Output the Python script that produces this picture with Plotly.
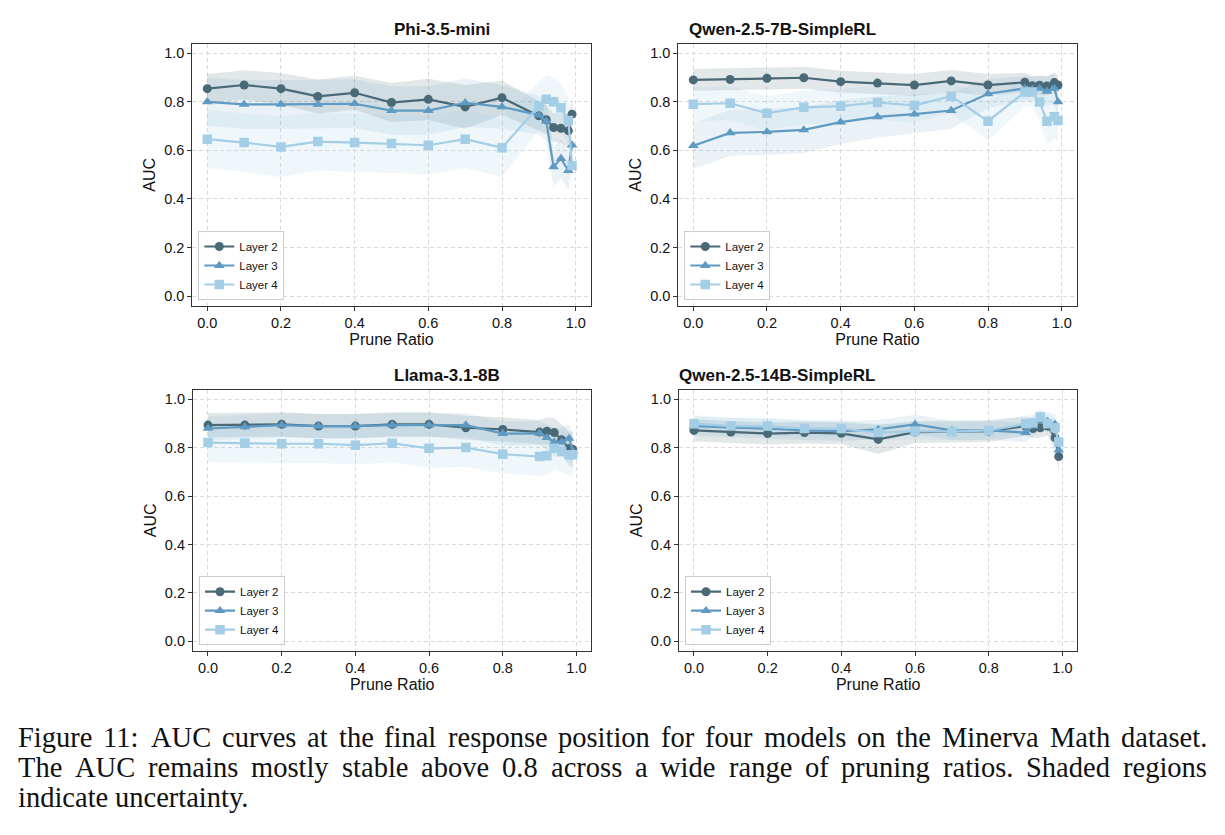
import plotly.graph_objects as go

W, H = 1225, 835

x_ratio = [0.0, 0.1, 0.2, 0.3, 0.4, 0.5, 0.6, 0.7, 0.8, 0.9, 0.92, 0.94, 0.96, 0.98, 0.99]
x_ticks = [0.0, 0.2, 0.4, 0.6, 0.8, 1.0]
y_ticks = [0.0, 0.2, 0.4, 0.6, 0.8, 1.0]
layer_names = ["Layer 2", "Layer 3", "Layer 4"]
model_names = ["Phi-3.5-mini", "Qwen-2.5-7B-SimpleRL", "Llama-3.1-8B", "Qwen-2.5-14B-SimpleRL"]

# ---- Phi-3.5-mini
phi_l2 = [0.854, 0.869, 0.854, 0.822, 0.837, 0.797, 0.810, 0.779, 0.817, 0.742, 0.726, 0.694, 0.691, 0.681, 0.749]
phi_l3 = [0.800, 0.789, 0.789, 0.789, 0.792, 0.764, 0.764, 0.796, 0.779, 0.745, 0.720, 0.532, 0.566, 0.517, 0.622]
phi_l4 = [0.646, 0.632, 0.614, 0.636, 0.632, 0.628, 0.621, 0.646, 0.611, 0.782, 0.810, 0.800, 0.775, 0.723, 0.538]
phi_s2 = [0.060, 0.060, 0.065, 0.070, 0.070, 0.080, 0.085, 0.090, 0.070, 0.060, 0.060, 0.060, 0.060, 0.070, 0.060]
phi_s3 = [0.100, 0.100, 0.100, 0.100, 0.100, 0.100, 0.100, 0.100, 0.090, 0.080, 0.080, 0.080, 0.080, 0.080, 0.080]
phi_s4 = [0.120, 0.120, 0.125, 0.120, 0.120, 0.120, 0.120, 0.120, 0.120, 0.100, 0.100, 0.100, 0.100, 0.100, 0.100]

# ---- Qwen-2.5-7B-SimpleRL
q7_l2 = [0.890, 0.892, 0.897, 0.899, 0.883, 0.877, 0.869, 0.886, 0.869, 0.880, 0.866, 0.868, 0.865, 0.879, 0.869]
q7_l3 = [0.619, 0.672, 0.676, 0.684, 0.716, 0.738, 0.749, 0.764, 0.833, 0.855, 0.851, 0.855, 0.843, 0.855, 0.800]
q7_l4 = [0.790, 0.794, 0.753, 0.777, 0.782, 0.797, 0.785, 0.823, 0.720, 0.840, 0.840, 0.799, 0.720, 0.738, 0.723]
q7_s2 = [0.045, 0.045, 0.045, 0.045, 0.045, 0.045, 0.045, 0.045, 0.045, 0.040, 0.040, 0.040, 0.040, 0.040, 0.040]
q7_s3 = [0.095, 0.095, 0.095, 0.095, 0.090, 0.085, 0.080, 0.075, 0.060, 0.050, 0.050, 0.050, 0.060, 0.060, 0.070]
q7_s4 = [0.070, 0.070, 0.070, 0.070, 0.070, 0.070, 0.070, 0.070, 0.080, 0.060, 0.060, 0.080, 0.100, 0.090, 0.090]

# ---- Llama-3.1-8B
ll_l2 = [0.893, 0.893, 0.896, 0.889, 0.889, 0.896, 0.896, 0.882, 0.875, 0.864, 0.868, 0.862, 0.832, 0.796, 0.793]
ll_l3 = [0.879, 0.886, 0.893, 0.889, 0.889, 0.893, 0.893, 0.893, 0.858, 0.859, 0.841, 0.823, 0.823, 0.838, 0.786]
ll_l4 = [0.821, 0.818, 0.816, 0.816, 0.810, 0.818, 0.797, 0.800, 0.773, 0.763, 0.766, 0.797, 0.784, 0.770, 0.770]
ll_s2 = [0.050, 0.050, 0.050, 0.050, 0.050, 0.050, 0.050, 0.050, 0.050, 0.050, 0.055, 0.060, 0.065, 0.070, 0.075]
ll_s3 = [0.050, 0.050, 0.050, 0.050, 0.050, 0.050, 0.050, 0.050, 0.050, 0.050, 0.055, 0.060, 0.060, 0.060, 0.065]
ll_s4 = [0.080, 0.080, 0.080, 0.080, 0.080, 0.080, 0.080, 0.080, 0.080, 0.080, 0.080, 0.085, 0.085, 0.085, 0.085]

# ---- Qwen-2.5-14B-SimpleRL
q14_l2 = [0.871, 0.864, 0.858, 0.862, 0.859, 0.834, 0.864, 0.866, 0.868, 0.889, 0.879, 0.882, 0.889, 0.841, 0.763]
q14_l3 = [0.889, 0.885, 0.878, 0.871, 0.868, 0.875, 0.896, 0.871, 0.871, 0.862, 0.889, 0.910, 0.907, 0.896, 0.790]
q14_l4 = [0.899, 0.889, 0.889, 0.879, 0.879, 0.862, 0.868, 0.866, 0.871, 0.899, 0.903, 0.926, 0.899, 0.882, 0.823]
q14_s2 = [0.045, 0.045, 0.045, 0.045, 0.045, 0.060, 0.045, 0.045, 0.045, 0.040, 0.040, 0.040, 0.040, 0.050, 0.070]
q14_s3 = [0.040, 0.040, 0.040, 0.040, 0.040, 0.040, 0.040, 0.040, 0.040, 0.040, 0.040, 0.040, 0.040, 0.040, 0.050]
q14_s4 = [0.035, 0.035, 0.035, 0.035, 0.035, 0.035, 0.035, 0.035, 0.035, 0.035, 0.035, 0.035, 0.035, 0.040, 0.050]

caption_lines = [
    "Figure 11: AUC curves at the final response position for four models on the Minerva Math dataset.",
    "The AUC remains mostly stable above 0.8 across a wide range of pruning ratios. Shaded regions",
    "indicate uncertainty.",
]
caption_justified = [True, True, False]

models = [
    ([phi_l2, phi_l3, phi_l4], [phi_s2, phi_s3, phi_s4]),
    ([q7_l2, q7_l3, q7_l4], [q7_s2, q7_s3, q7_s4]),
    ([ll_l2, ll_l3, ll_l4], [ll_s2, ll_s3, ll_s4]),
    ([q14_l2, q14_l3, q14_l4], [q14_s2, q14_s3, q14_s4]),
]

line_colors = ["#4a6977", "#5f9ac2", "#a4cde6"]
band_colors = ["rgba(74,105,119,0.16)", "rgba(95,154,194,0.13)", "rgba(164,205,230,0.16)"]
symbols = ["circle", "triangle-up", "square"]

# plot-area boxes in pixels (left, right, top, bottom)
boxes = [
    (192.3, 590.7, 44.0, 305.5),
    (678.3, 1076.7, 44.0, 305.5),
    (193.0, 591.4, 390.0, 650.7),
    (679.0, 1077.4, 390.0, 650.7),
]

SANS = "Liberation Sans, Arial, sans-serif"
SERIF = "Liberation Serif, Times New Roman, serif"
fig = go.Figure()
legend_keys = ["legend", "legend2", "legend3", "legend4"]

for i, ((series, stds), box) in enumerate(zip(models, boxes)):
    xa = "x" if i == 0 else f"x{i+1}"
    ya = "y" if i == 0 else f"y{i+1}"
    for j in range(3):
        up = [v + s for v, s in zip(series[j], stds[j])]
        lo = [v - s for v, s in zip(series[j], stds[j])]
        fig.add_trace(go.Scatter(
            x=x_ratio + x_ratio[::-1], y=up + lo[::-1], fill="toself",
            fillcolor=band_colors[j], line=dict(width=0), mode="lines",
            hoverinfo="skip", showlegend=False, xaxis=xa, yaxis=ya))
    for j in range(3):
        fig.add_trace(go.Scatter(
            x=x_ratio, y=series[j], mode="lines+markers", name=layer_names[j],
            line=dict(color=line_colors[j], width=2.2),
            marker=dict(symbol=symbols[j], size=9.5 if j else 9, color=line_colors[j]),
            xaxis=xa, yaxis=ya, legend=legend_keys[i]))

    l, r, t, b = box
    ax_common = dict(
        showline=True, mirror=True, linecolor="#333333", linewidth=1.2,
        ticks="outside", ticklen=4, tickcolor="#333333", tickwidth=1,
        showgrid=True, gridcolor="#dadada", griddash="4px,3px", gridwidth=0.8,
        zeroline=False, tickfont=dict(family=SANS, size=14.5, color="#111111"),
    )
    xkey = "xaxis" if i == 0 else f"xaxis{i+1}"
    ykey = "yaxis" if i == 0 else f"yaxis{i+1}"
    fig.layout[xkey] = dict(
        ax_common, domain=[l / W, r / W], anchor=ya, range=[-0.0407, 1.0407],
        tickvals=x_ticks, ticktext=[f"{v:.1f}" for v in x_ticks],
        title=dict(text="Prune Ratio", font=dict(family=SANS, size=16, color="#111111"), standoff=3))
    fig.layout[ykey] = dict(
        ax_common, domain=[1 - b / H, 1 - t / H], anchor=xa, range=[-0.039, 1.038],
        tickvals=y_ticks, ticktext=[f"{v:.1f}" for v in y_ticks],
        title=dict(text="AUC", font=dict(family=SANS, size=16, color="#111111"), standoff=4))
    fig.add_annotation(
        x=(l + r) / 2 / W, y=1 - t / H, xref="paper", yref="paper",
        text=f"<b>{model_names[i]}</b>", showarrow=False, yanchor="bottom", yshift=3,
        font=dict(family=SANS, size=17, color="#111111"))
    fig.layout[legend_keys[i]] = dict(
        x=(l + 6) / W, y=1 - (b - 5.5) / H, xanchor="left", yanchor="bottom",
        bgcolor="rgba(255,255,255,0.85)", bordercolor="#cccccc", borderwidth=1,
        font=dict(family=SANS, size=11.5, color="#111111"), itemwidth=30,
        tracegroupgap=0)

# --- caption: justified text, words placed using Times glyph advance widths
TIMES_W = {" ": 250, "a": 444, "b": 500, "c": 444, "d": 500, "e": 444, "f": 333, "g": 500,
           "h": 500, "i": 278, "j": 278, "k": 500, "l": 278, "m": 778, "n": 500, "o": 500,
           "p": 500, "q": 500, "r": 333, "s": 389, "t": 278, "u": 500, "v": 500, "w": 722,
           "x": 500, "y": 500, "z": 444, "A": 722, "C": 667, "F": 556, "M": 889, "S": 556,
           "T": 611, "U": 722, ".": 250, ":": 278, "0": 500, "1": 500, "8": 500}
CAP_SIZE = 28.5
CAP_LEFT, CAP_RIGHT = 18, 1207
cap_y = [737, 767, 797]


def word_width(wd):
    return sum(TIMES_W.get(c, 500) for c in wd) * CAP_SIZE / 1000.0


for k, txt in enumerate(caption_lines):
    words = txt.split(" ")
    widths = [word_width(wd) for wd in words]
    if caption_justified[k]:
        gap = (CAP_RIGHT - CAP_LEFT - sum(widths)) / (len(words) - 1)
    else:
        gap = TIMES_W[" "] * CAP_SIZE / 1000.0
    xpos = CAP_LEFT
    for wd, wdw in zip(words, widths):
        fig.add_annotation(
            x=xpos / W, y=1 - cap_y[k] / H, xref="paper", yref="paper", text=wd,
            showarrow=False, xanchor="left", yanchor="middle", borderpad=0, borderwidth=0,
            font=dict(family=SERIF, size=CAP_SIZE, color="#111111"))
        xpos += wdw + gap

fig.update_layout(
    width=W, height=H, margin=dict(l=0, r=0, t=0, b=0),
    paper_bgcolor="white", plot_bgcolor="white", showlegend=True,
)
fig.write_html("out.html")
